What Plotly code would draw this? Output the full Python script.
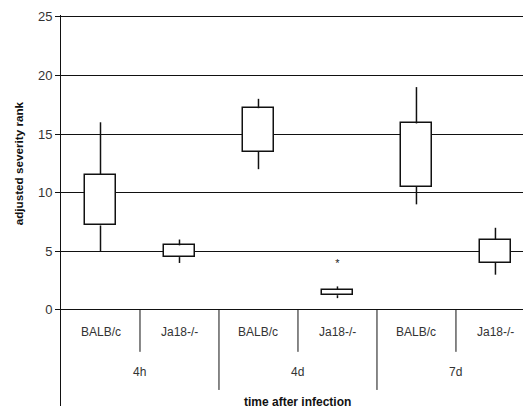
import plotly.graph_objects as go

strains = ["BALB/c", "Ja18-/-", "BALB/c", "Ja18-/-", "BALB/c", "Ja18-/-"]
times = ["4h", "4d", "7d"]
positions = [1, 2, 3, 4, 5, 6]
q1 = [7.2, 4.5, 13.5, 1.25, 10.5, 4.0]
q3 = [11.5, 5.5, 17.2, 1.7, 15.9, 6.0]
low = [5.0, 4.0, 12.0, 1.0, 9.0, 3.0]
high = [16.0, 6.0, 18.0, 2.0, 19.0, 7.0]
star_x = [4]
star_y = [3.9]
y_ticks = [0, 5, 10, 15, 20, 25]

INK = "#111111"
fig = go.Figure()

# whiskers
wx, wy = [], []
for p, a, b, c, d in zip(positions, low, q1, q3, high):
    wx += [p, p, None, p, p, None]
    wy += [a, b, None, c, d, None]
fig.add_trace(go.Scatter(x=wx, y=wy, mode="lines", line=dict(color=INK, width=1.5),
                         showlegend=False, hoverinfo="skip"))

# boxes as floating bars
fig.add_trace(go.Bar(
    x=positions, y=[b - a for a, b in zip(q1, q3)], base=q1, width=0.4,
    marker=dict(color="white", line=dict(color=INK, width=1.5)), showlegend=False,
))

fig.add_trace(go.Scatter(
    x=star_x, y=star_y, mode="text", text=["*"],
    textfont=dict(family="Liberation Sans", size=11, color="#222222"),
    showlegend=False, cliponaxis=False,
))

shapes = []
for i in range(1, 6):
    xv = i + 0.5
    ybot = -6.83 if i % 2 == 0 else -3.58
    shapes.append(dict(type="line", xref="x", yref="y", x0=xv, x1=xv, y0=0, y1=ybot,
                       line=dict(color=INK, width=1)))

annotations = []
for p, s in zip(positions, strains):
    annotations.append(dict(x=p, y=-1.9, xref="x", yref="y", text=s, showarrow=False,
                            font=dict(family="Liberation Sans", size=12, color="#333333")))
for i, t in enumerate(times):
    annotations.append(dict(x=1.5 + 2 * i, y=-5.3, xref="x", yref="y", text=t, showarrow=False,
                            font=dict(family="Liberation Sans", size=12, color="#333333")))
annotations.append(dict(x=3.5, y=-7.85, xref="x", yref="y",
                        text="<b>time after infection</b>", showarrow=False,
                        font=dict(family="Liberation Sans", size=12, color=INK)))
annotations.append(dict(x=-0.0915, y=12.5, xref="paper", yref="y", textangle=-90,
                        xanchor="center", yanchor="middle",
                        text="<b>adjusted severity rank</b>", showarrow=False,
                        font=dict(family="Liberation Sans", size=11.7, color=INK)))

fig.update_layout(
    width=523, height=404,
    margin=dict(l=53, r=0, t=7, b=6),
    paper_bgcolor="white", plot_bgcolor="white",
    shapes=shapes, annotations=annotations, bargap=0,
    xaxis=dict(range=[0.5, 6.45], showgrid=False, zeroline=False, showticklabels=False,
               ticks="", showline=False),
    yaxis=dict(range=[-8.2, 25.15], tickvals=y_ticks, ticktext=[str(v) for v in y_ticks],
               showgrid=True, gridcolor=INK, gridwidth=1, zeroline=False,
               showline=True, linecolor=INK, linewidth=1,
               ticks="outside", ticklen=5, tickcolor=INK,
               tickfont=dict(family="Liberation Sans", size=13, color="#333333")),
)

fig.write_html("out.html")
